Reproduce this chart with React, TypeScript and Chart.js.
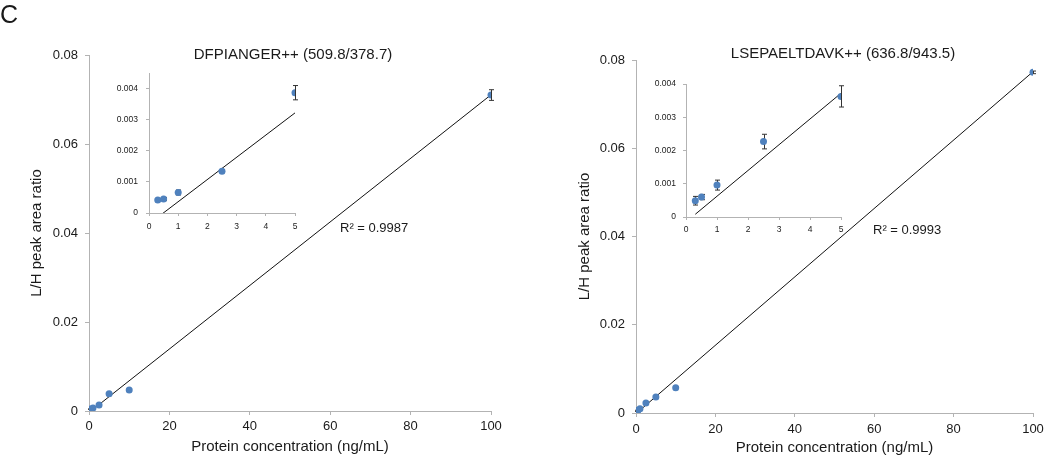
import React, { useEffect, useRef } from 'react';
import { Chart, registerables } from 'chart.js';

Chart.register(...registerables);

// ---------- data ----------
const concentrations = [0.3, 0.5, 1, 2.5, 5, 10, 100];

const leftRatios = [0.00042, 0.00045, 0.00066, 0.00134, 0.00387, 0.0047, 0.071];
const leftErrors = [0.00003, 0.00005, 0.00008, 0.00004, 0.00023, 0.0001, 0.0012];
const leftSlope = 0.000714;
const leftIntercept = -0.00035;
const leftTitle = 'DFPIANGER++ (509.8/378.7)';
const leftR2 = 'R² = 0.9987';

const rightRatios = [0.00049, 0.0006, 0.00096, 0.00227, 0.00363, 0.00573, 0.0772];
const rightErrors = [0.00013, 0.00008, 0.00015, 0.00022, 0.00032, 0.0001, 0.0003];
const rightSlope = 0.000775;
const rightIntercept = -0.00015;
const rightTitle = 'LSEPAELTDAVK++ (636.8/943.5)';
const rightR2 = 'R² = 0.9993';

const mainXTicks = [0, 20, 40, 60, 80, 100];
const mainYTicks = [0, 0.02, 0.04, 0.06, 0.08];
const insetXTicks = [0, 1, 2, 3, 4, 5];
const insetYTicks = [0, 0.001, 0.002, 0.003, 0.004];

const xAxisTitle = 'Protein concentration (ng/mL)';
const yAxisTitle = 'L/H peak area ratio';
const panelLetter = 'C';

// ---------- styling ----------
const FONT = '"Liberation Sans", Arial, sans-serif';
const AXIS = '#b3b3b3';
const TEXT = '#1a1a1a';
const POINT = '#4f81bd';

type TextItem = {
  text: string;
  x: number;
  y: number;
  size: number;
  align: CanvasTextAlign;
  baseline: CanvasTextBaseline;
};

type PanelSpec = {
  box: [number, number, number, number];
  area: [number, number, number, number];
  yAxisWidth: number;
  xAxisHeight: number;
  xs: number[];
  ys: number[];
  errs: number[];
  slope: number;
  intercept: number;
  xMax: number;
  yMax: number;
  xTicks: number[];
  yTicks: number[];
  yDecimals: number;
  tickFont: number;
  xTickLen: number;
  xTickPad: number;
  yTickLen: number;
  yTickPad: number;
  pointRadius: number;
  capHalf: number;
  showTitles: boolean;
  yTitlePad?: number;
  xTitlePad?: number;
  texts: TextItem[];
};

function buildConfig(spec: PanelSpec): any {
  const [bx, by, bw, bh] = spec.box;
  const [al, at, ar, ab] = spec.area;
  const padding = {
    left: al - bx - spec.yAxisWidth,
    top: at - by,
    right: bx + bw - ar,
    bottom: by + bh - ab - spec.xAxisHeight,
  };
  const x0 = Math.min(...spec.xs);
  const x1 = Math.max(...spec.xs);
  const fit = (x: number) => spec.slope * x + spec.intercept;

  const errorBars = {
    id: 'errorBars',
    beforeDatasetsDraw(chart: any) {
      const ctx = chart.ctx;
      const xs = chart.scales.x;
      const ys = chart.scales.y;
      ctx.save();
      ctx.beginPath();
      ctx.rect(chart.chartArea.left - 5, chart.chartArea.top - 10, chart.chartArea.right - chart.chartArea.left + 10, chart.chartArea.bottom - chart.chartArea.top + 10);
      ctx.clip();
      ctx.strokeStyle = '#333';
      ctx.lineWidth = 1;
      spec.xs.forEach((xv, i) => {
        const e = spec.errs[i];
        if (!e) return;
        const px = Math.round(xs.getPixelForValue(xv)) + 0.5;
        const pTop = ys.getPixelForValue(spec.ys[i] + e);
        const pBot = ys.getPixelForValue(spec.ys[i] - e);
        ctx.beginPath();
        ctx.moveTo(px, pTop);
        ctx.lineTo(px, pBot);
        ctx.moveTo(px - spec.capHalf, pTop);
        ctx.lineTo(px + spec.capHalf, pTop);
        ctx.moveTo(px - spec.capHalf, pBot);
        ctx.lineTo(px + spec.capHalf, pBot);
        ctx.stroke();
      });
      ctx.restore();
    },
  };

  const texts = {
    id: 'panelTexts',
    afterDraw(chart: any) {
      const ctx = chart.ctx;
      spec.texts.forEach((t) => {
        ctx.save();
        ctx.font = `${t.size}px ${FONT}`;
        ctx.fillStyle = TEXT;
        ctx.textAlign = t.align;
        ctx.textBaseline = t.baseline;
        ctx.fillText(t.text, t.x - bx, t.y - by);
        ctx.restore();
      });
    },
  };

  const tickFont = { family: FONT, size: spec.tickFont };
  const titleFont = { family: FONT, size: 15 };

  return {
    type: 'scatter',
    data: {
      datasets: [
        {
          data: spec.xs.map((x, i) => ({ x, y: spec.ys[i] })),
          backgroundColor: POINT,
          borderColor: POINT,
          borderWidth: 0,
          pointRadius: spec.pointRadius,
          showLine: false,
        },
        {
          data: [
            { x: x0, y: fit(x0) },
            { x: x1, y: fit(x1) },
          ],
          showLine: true,
          borderColor: '#111',
          borderWidth: 1,
          pointRadius: 0,
          fill: false,
        },
      ],
    },
    options: {
      responsive: false,
      maintainAspectRatio: false,
      animation: false,
      devicePixelRatio: 1,
      layout: { padding },
      plugins: {
        legend: { display: false },
        tooltip: { enabled: false },
        title: { display: false },
      },
      scales: {
        x: {
          type: 'linear',
          min: 0,
          max: spec.xMax,
          afterBuildTicks: (s: any) => {
            s.ticks = spec.xTicks.map((v) => ({ value: v }));
          },
          afterFit: (s: any) => {
            s.height = spec.xAxisHeight;
          },
          grid: {
            drawOnChartArea: false,
            drawTicks: true,
            tickLength: spec.xTickLen,
            color: AXIS,
          },
          border: { display: true, color: AXIS, width: 1 },
          ticks: {
            font: tickFont,
            color: TEXT,
            padding: spec.xTickPad,
            maxRotation: 0,
            autoSkip: false,
            callback: (v: number) => String(v),
          },
          title: {
            display: spec.showTitles,
            text: xAxisTitle,
            font: titleFont,
            color: TEXT,
            padding: { top: 0, bottom: spec.xTitlePad ?? 0 },
          },
        },
        y: {
          type: 'linear',
          min: 0,
          max: spec.yMax,
          afterBuildTicks: (s: any) => {
            s.ticks = spec.yTicks.map((v) => ({ value: v }));
          },
          afterFit: (s: any) => {
            s.width = spec.yAxisWidth;
          },
          grid: {
            drawOnChartArea: false,
            drawTicks: true,
            tickLength: spec.yTickLen,
            color: AXIS,
          },
          border: { display: true, color: AXIS, width: 1 },
          ticks: {
            font: tickFont,
            color: TEXT,
            padding: spec.yTickPad,
            autoSkip: false,
            callback: (v: number) => (v === 0 ? '0' : v.toFixed(spec.yDecimals)),
          },
          title: {
            display: spec.showTitles,
            text: yAxisTitle,
            font: titleFont,
            color: TEXT,
            padding: { top: spec.yTitlePad ?? 0, bottom: 0 },
          },
        },
      },
    },
    plugins: [errorBars, texts],
  };
}

function Panel({ spec }: { spec: PanelSpec }) {
  const ref = useRef<HTMLCanvasElement>(null);
  useEffect(() => {
    if (!ref.current) return;
    const chart = new Chart(ref.current, buildConfig(spec));
    return () => chart.destroy();
  }, [spec]);
  const [x, y, w, h] = spec.box;
  return (
    <canvas
      ref={ref}
      width={w}
      height={h}
      style={{ position: 'absolute', left: x, top: y, width: w, height: h }}
    />
  );
}

const insetCount = concentrations.filter((c) => c <= 5).length;

const panels: PanelSpec[] = [
  {
    box: [0, 0, 525, 457],
    area: [89, 55, 491, 411],
    yAxisWidth: 89,
    xAxisHeight: 46,
    xs: concentrations,
    ys: leftRatios,
    errs: leftErrors,
    slope: leftSlope,
    intercept: leftIntercept,
    xMax: 100,
    yMax: 0.08,
    xTicks: mainXTicks,
    yTicks: mainYTicks,
    yDecimals: 2,
    tickFont: 13,
    xTickLen: 4,
    xTickPad: 4,
    yTickLen: 4,
    yTickPad: 7,
    pointRadius: 3.5,
    capHalf: 2.5,
    showTitles: true,
    yTitlePad: 28,
    xTitlePad: 1,
    texts: [
      { text: panelLetter, x: 0, y: 23, size: 25, align: 'left', baseline: 'alphabetic' },
      { text: leftTitle, x: 293, y: 55, size: 15, align: 'center', baseline: 'middle' },
      { text: leftR2, x: 340, y: 228, size: 13, align: 'left', baseline: 'middle' },
    ],
  },
  {
    box: [100, 60, 205, 177],
    area: [149, 67, 295, 213],
    yAxisWidth: 49,
    xAxisHeight: 24,
    xs: concentrations.slice(0, insetCount),
    ys: leftRatios.slice(0, insetCount),
    errs: leftErrors.slice(0, insetCount),
    slope: leftSlope,
    intercept: leftIntercept,
    xMax: 5,
    yMax: 0.0045,
    xTicks: insetXTicks,
    yTicks: insetYTicks,
    yDecimals: 3,
    tickFont: 8.5,
    xTickLen: 3,
    xTickPad: 6,
    yTickLen: 3,
    yTickPad: 8,
    pointRadius: 3.5,
    capHalf: 2.5,
    showTitles: false,
    texts: [],
  },
  {
    box: [525, 0, 525, 457],
    area: [636, 60, 1033, 413],
    yAxisWidth: 111,
    xAxisHeight: 44,
    xs: concentrations,
    ys: rightRatios,
    errs: rightErrors,
    slope: rightSlope,
    intercept: rightIntercept,
    xMax: 100,
    yMax: 0.08,
    xTicks: mainXTicks,
    yTicks: mainYTicks,
    yDecimals: 2,
    tickFont: 13,
    xTickLen: 4,
    xTickPad: 5,
    yTickLen: 4,
    yTickPad: 7,
    pointRadius: 3.5,
    capHalf: 2.5,
    showTitles: true,
    yTitlePad: 51,
    xTitlePad: 0,
    texts: [
      { text: rightTitle, x: 843, y: 54, size: 15, align: 'center', baseline: 'middle' },
      { text: rightR2, x: 873, y: 230, size: 13, align: 'left', baseline: 'middle' },
    ],
  },
  {
    box: [640, 72, 210, 170],
    area: [686, 81, 841, 217],
    yAxisWidth: 46,
    xAxisHeight: 25,
    xs: concentrations.slice(0, insetCount),
    ys: rightRatios.slice(0, insetCount),
    errs: rightErrors.slice(0, insetCount),
    slope: rightSlope,
    intercept: rightIntercept,
    xMax: 5,
    yMax: 0.004,
    xTicks: insetXTicks,
    yTicks: insetYTicks,
    yDecimals: 3,
    tickFont: 8.5,
    xTickLen: 3,
    xTickPad: 5,
    yTickLen: 3,
    yTickPad: 7,
    pointRadius: 3.5,
    capHalf: 2.5,
    showTitles: false,
    texts: [],
  },
];

export default function App() {
  return (
    <div
      style={{
        position: 'absolute',
        left: 0,
        top: 0,
        width: 1050,
        height: 457,
        background: '#fff',
        overflow: 'hidden',
      }}
    >
      {panels.map((p, i) => (
        <Panel key={i} spec={p} />
      ))}
    </div>
  );
}
